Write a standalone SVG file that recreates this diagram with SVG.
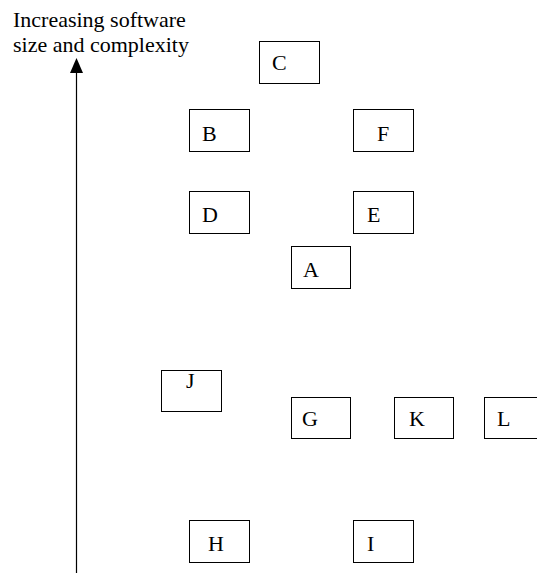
<svg xmlns="http://www.w3.org/2000/svg" width="537" height="573" viewBox="0 0 537 573">
<style>
.box{fill:#fff;stroke:#000;stroke-width:1}
.lbl{font-size:22px;fill:#000}
.ax{font-size:22px;fill:#000}
</style>
<rect width="537" height="573" fill="#fff"/>
<g font-family="'Liberation Serif', 'Times New Roman', Times, serif">
<g id="axis-label">
<text class="ax" x="13" y="27">Increasing software</text>
<text class="ax" x="13" y="52">size and complexity</text>
</g>
<g id="connectors">
<line x1="76.5" y1="573" x2="76.5" y2="72" stroke="#000" stroke-width="1.2"/>
<path d="M70,73 L76.5,58 L83,73 Z" fill="#000"/>
</g>
<g id="C"><rect class="box" x="259.5" y="41.5" width="60" height="42"/><text class="lbl" x="272" y="70">C</text></g>
<g id="B"><rect class="box" x="189.5" y="109.5" width="60" height="42"/><text class="lbl" x="202" y="141">B</text></g>
<g id="F"><rect class="box" x="353.5" y="109.5" width="60" height="42"/><text class="lbl" x="377" y="141">F</text></g>
<g id="D"><rect class="box" x="189.5" y="191.5" width="60" height="42"/><text class="lbl" x="202" y="222">D</text></g>
<g id="E"><rect class="box" x="353.5" y="191.5" width="60" height="42"/><text class="lbl" x="367" y="222">E</text></g>
<g id="A"><rect class="box" x="291.5" y="246.5" width="59" height="42"/><text class="lbl" x="303" y="277">A</text></g>
<g id="J"><rect class="box" x="161.5" y="370.5" width="60" height="41"/><text class="lbl" x="186" y="388">J</text></g>
<g id="G"><rect class="box" x="291.5" y="397.5" width="59" height="41"/><text class="lbl" x="302" y="426">G</text></g>
<g id="K"><rect class="box" x="394.5" y="397.5" width="59" height="41"/><text class="lbl" x="409" y="426">K</text></g>
<g id="L"><rect class="box" x="484.5" y="397.5" width="60" height="41"/><text class="lbl" x="497" y="426">L</text></g>
<g id="H"><rect class="box" x="189.5" y="520.5" width="60" height="42"/><text class="lbl" x="208" y="551">H</text></g>
<g id="I"><rect class="box" x="353.5" y="520.5" width="60" height="42"/><text class="lbl" x="367" y="551">I</text></g>
</g>
</svg>
